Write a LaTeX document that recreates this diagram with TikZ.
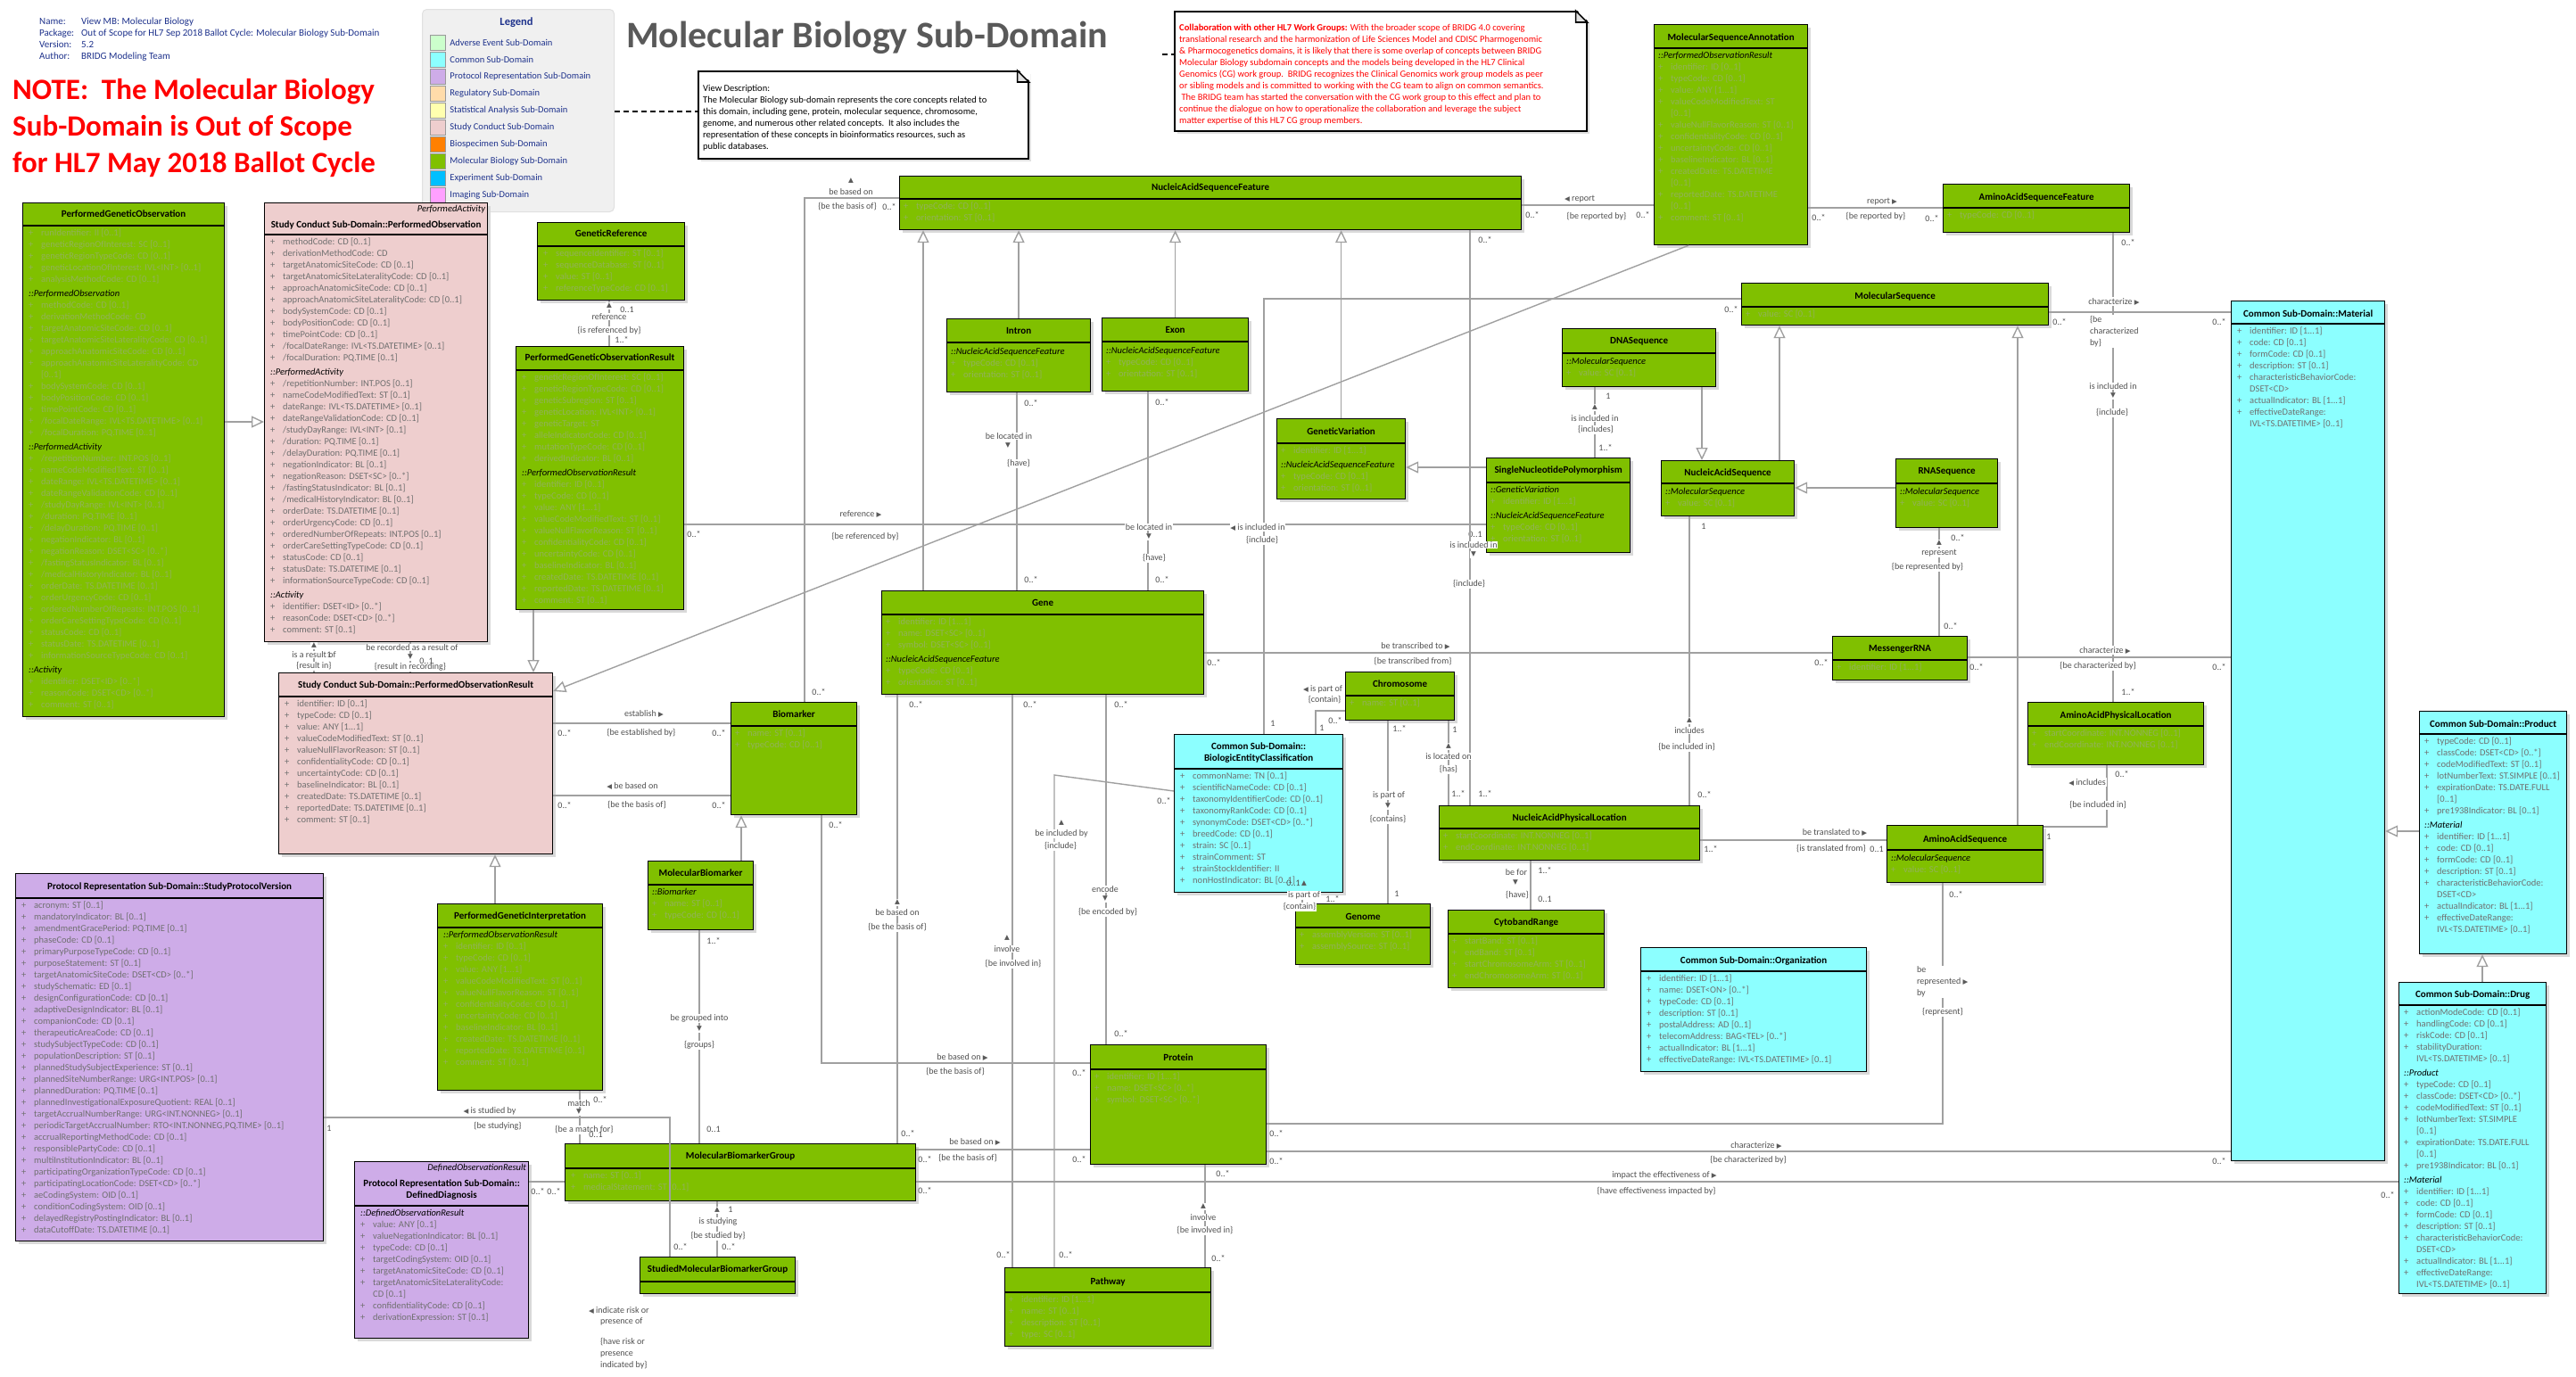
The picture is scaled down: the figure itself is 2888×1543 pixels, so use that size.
\documentclass[tikz,border=0pt]{standalone}
\usepackage{fontspec}
\setmainfont{Carlito}
\newfontfamily\trifont{DejaVu Sans}
\usepackage{tikz}
\usetikzlibrary{positioning,arrows.meta,shadows}

\definecolor{mbgreen}{RGB}{128,192,0}
\definecolor{cmcyan}{RGB}{140,255,255}
\definecolor{prlav}{RGB}{206,172,232}
\definecolor{scpink}{RGB}{238,206,206}
\definecolor{aegreen}{RGB}{204,255,204}
\definecolor{regorange}{RGB}{255,220,170}
\definecolor{statyellow}{RGB}{255,255,175}
\definecolor{biospec}{RGB}{255,128,0}
\definecolor{expblue}{RGB}{0,191,255}
\definecolor{imgpink}{RGB}{255,160,255}
\definecolor{attrgreen}{RGB}{146,178,90}
\definecolor{attrgray}{RGB}{112,112,112}
\definecolor{linegray}{RGB}{160,160,160}
\definecolor{lblgray}{RGB}{80,80,80}
\definecolor{trigray}{RGB}{90,90,90}
\definecolor{infoblue}{RGB}{30,50,140}
\definecolor{titlegray}{RGB}{89,89,89}

% attribute rows
\newcommand{\umlp}{\makebox[14pt][l]{+}}
\newcommand{\umlc}{\hspace*{14pt}}
\newcommand{\umls}[1]{{\color{black}\itshape #1}}
% direction marks on association names
\newcommand{\trr}{{\trifont\fontsize{7.5}{7.5}\selectfont\textcolor{trigray}{▶}}}
\newcommand{\trl}{{\trifont\fontsize{7.5}{7.5}\selectfont\textcolor{trigray}{◀}}}
\newcommand{\tru}{{\trifont\fontsize{7.5}{7.5}\selectfont\textcolor{trigray}{▲}}}
\newcommand{\trd}{{\trifont\fontsize{7.5}{7.5}\selectfont\textcolor{trigray}{▼}}}

\begin{document}
\begin{tikzpicture}[x=1pt, y=-1pt,
    mbclass/.style={
        rectangle,
        draw=black,
        line width=1.2pt,
        fill=mbgreen,
        inner sep=0pt,
        anchor=north west,
        drop shadow={shadow xshift=3pt, shadow yshift=-3pt, fill=black!15, opacity=1}
    },
    cmclass/.style={mbclass, fill=cmcyan},
    scclass/.style={mbclass, fill=scpink},
    prclass/.style={mbclass, fill=prlav},
    ctitle/.style={
        font=\fontsize{11}{13}\selectfont\bfseries,
        inner sep=0pt,
        align=center
    },
    stereo/.style={
        font=\fontsize{10.5}{13}\selectfont\itshape,
        inner sep=0pt,
        anchor=north east
    },
    attrs/.style={
        font=\fontsize{10.5}{13}\selectfont,
        text=attrgreen,
        align=left,
        anchor=north west,
        inner sep=0pt
    },
    attrsg/.style={attrs, text=attrgray},
    hline/.style={line width=1.2pt},
    assoc/.style={draw=linegray, line width=1.4pt},
    gen/.style={assoc, -{Triangle[length=14pt, width=13pt, fill=white]}},
    lbl/.style={
        font=\fontsize{10}{13}\selectfont,
        text=lblgray,
        fill=white,
        inner sep=0.8pt
    },
    mult/.style={lbl, fill=none},
    notebox/.style={
        rectangle,
        draw=black,
        line width=1.6pt,
        fill=white,
        anchor=north west,
        drop shadow={shadow xshift=3pt, shadow yshift=-3pt, fill=black!12, opacity=1}
    },
    notelink/.style={draw=black, line width=1.4pt, dash pattern=on 6pt off 4pt},
    swatch/.style={
        rectangle,
        draw=black!40,
        minimum width=17pt,
        minimum height=17pt,
        inner sep=0pt
    },
    legtext/.style={
        font=\fontsize{10.5}{13}\selectfont,
        text=infoblue,
        inner sep=0pt
    }
]

% Page
\fill[white] (0,0) rectangle (2888,1543);
\useasboundingbox (0,0) rectangle (2888,1543);

% Model information
\node[font=\fontsize{11}{13}\selectfont, text=infoblue, align=left, anchor=north west, inner sep=0pt] (info) at (44,20)
    {\makebox[47pt][l]{Name:}View MB: Molecular Biology\\
     \makebox[47pt][l]{Package:}Out of Scope for HL7 Sep 2018 Ballot Cycle: Molecular Biology Sub-Domain\\
     \makebox[47pt][l]{Version:}5.2\\
     \makebox[47pt][l]{Author:}BRIDG Modeling Team};

% Scope note
\node[font=\fontsize{33}{41}\selectfont\bfseries, text=red, align=left, anchor=north west, inner sep=0pt] (note) at (14,88)
    {NOTE:\ \ The Molecular Biology\\Sub-Domain is Out of Scope\\for HL7 May 2018 Ballot Cycle};

% Title
\node[font=\fontsize{42}{50}\selectfont\bfseries, text=titlegray] (title) at (972,42) {Molecular Biology Sub-Domain};

% Legend
\node[rectangle, rounded corners=5pt, fill=black!6, draw=black!12, line width=1pt, anchor=north west, minimum width=215pt, minimum height=227pt] (legend) at (473,10) {};
\node[font=\fontsize{12.5}{14}\selectfont\bfseries, text=infoblue] (legtitle) at (579,25) {Legend};
\node[swatch, fill=aegreen] (sw1) at (490.5,48) {};
\node[legtext, right=5pt of sw1] (lg1) {Adverse Event Sub-Domain};
\node[swatch, fill=cmcyan] (sw2) at (490.5,67) {};
\node[legtext, right=5pt of sw2] (lg2) {Common Sub-Domain};
\node[swatch, fill=prlav] (sw3) at (490.5,86) {};
\node[legtext, right=5pt of sw3] (lg3) {Protocol Representation Sub-Domain};
\node[swatch, fill=regorange] (sw4) at (490.5,105) {};
\node[legtext, right=5pt of sw4] (lg4) {Regulatory Sub-Domain};
\node[swatch, fill=statyellow] (sw5) at (490.5,124) {};
\node[legtext, right=5pt of sw5] (lg5) {Statistical Analysis Sub-Domain};
\node[swatch, fill=scpink] (sw6) at (490.5,143) {};
\node[legtext, right=5pt of sw6] (lg6) {Study Conduct Sub-Domain};
\node[swatch, fill=biospec] (sw7) at (490.5,162) {};
\node[legtext, right=5pt of sw7] (lg7) {Biospecimen Sub-Domain};
\node[swatch, fill=mbgreen] (sw8) at (490.5,181) {};
\node[legtext, right=5pt of sw8] (lg8) {Molecular Biology Sub-Domain};
\node[swatch, fill=expblue] (sw9) at (490.5,200) {};
\node[legtext, right=5pt of sw9] (lg9) {Experiment Sub-Domain};
\node[swatch, fill=imgpink] (sw10) at (490.5,219) {};
\node[legtext, right=5pt of sw10] (lg10) {Imaging Sub-Domain};

% View description note
\node[notebox, minimum width=370pt, minimum height=98pt] (viewnote) at (782,79) {};
\fill[white] ([xshift=-13pt,yshift=2pt]viewnote.north east) -- ([xshift=2pt,yshift=2pt]viewnote.north east) -- ([xshift=2pt,yshift=-13pt]viewnote.north east) -- cycle;
\draw[line width=1.6pt, fill=black!12] ([xshift=-13pt]viewnote.north east) -- ([yshift=-13pt]viewnote.north east) -- ([xshift=-13pt,yshift=-13pt]viewnote.north east) -- cycle;
\node[font=\fontsize{10.5}{13}\selectfont, align=left, anchor=north west, inner sep=0pt] (viewtext) at (788,95)
    {View Description:\\
     The Molecular Biology sub-domain represents the core concepts related to\\
     this domain, including gene, protein, molecular sequence, chromosome,\\
     genome, and numerous other related concepts.\ \ It also includes the\\
     representation of these concepts in bioinformatics resources, such as\\
     public databases.};
\draw[notelink] (legend.east |- 0,125) -- (viewnote.west |- 0,125);

% Collaboration note
\node[notebox, minimum width=462pt, minimum height=134pt] (collabnote) at (1316,12) {};
\fill[white] ([xshift=-13pt,yshift=2pt]collabnote.north east) -- ([xshift=2pt,yshift=2pt]collabnote.north east) -- ([xshift=2pt,yshift=-13pt]collabnote.north east) -- cycle;
\draw[line width=1.6pt, fill=black!12] ([xshift=-13pt]collabnote.north east) -- ([yshift=-13pt]collabnote.north east) -- ([xshift=-13pt,yshift=-13pt]collabnote.north east) -- cycle;
\node[font=\fontsize{10.5}{13}\selectfont, text=red, align=left, anchor=north west, inner sep=0pt] (collabtext) at (1322,27)
    {\textbf{Collaboration with other HL7 Work Groups:} With the broader scope of BRIDG 4.0 covering\\
     translational research and the harmonization of Life Sciences Model and CDISC Pharmogenomic\\
     \& Pharmocogenetics domains, it is likely that there is some overlap of concepts between BRIDG\\
     Molecular Biology subdomain concepts and the models being developed in the HL7 Clinical\\
     Genomics (CG) work group.\ \ BRIDG recognizes the Clinical Genomics work group models as peer\\
     or sibling models and is committed to working with the CG team to align on common semantics.\\
     \ The BRIDG team has started the conversation with the CG work group to this effect and plan to\\
     continue the dialogue on how to operationalize the collaboration and leverage the subject\\
     matter expertise of this HL7 CG group members.};
\coordinate (collabstub) at (1303,61);
\draw[notelink] (collabstub) -- (collabnote.west |- collabstub);

% PerformedGeneticObservation
\node[mbclass, minimum width=226pt, minimum height=576pt] (pgo) at (25,227) {};
\draw[hline] ([yshift=-26pt]pgo.north west) -- ([yshift=-26pt]pgo.north east);
\node[ctitle] (pgoT) at ([yshift=-13pt]pgo.north) {PerformedGeneticObservation};
\node[attrs] (pgoA) at ([xshift=7pt,yshift=-30pt]pgo.north west)
    {\umlp runIdentifier: II [0..1]\\
     \umlp geneticRegionOfInterest: SC [0..1]\\
     \umlp geneticRegionTypeCode: CD [0..1]\\
     \umlp geneticLocationOfInterest: IVL<INT> [0..1]\\
     \umlp analysisMethodCode: CD [0..1]\\[3pt]
     \umls{::PerformedObservation}\\
     \umlp methodCode: CD [0..1]\\
     \umlp derivationMethodCode: CD\\
     \umlp targetAnatomicSiteCode: CD [0..1]\\
     \umlp targetAnatomicSiteLateralityCode: CD [0..1]\\
     \umlp approachAnatomicSiteCode: CD [0..1]\\
     \umlp approachAnatomicSiteLateralityCode: CD\\
     \umlc [0..1]\\
     \umlp bodySystemCode: CD [0..1]\\
     \umlp bodyPositionCode: CD [0..1]\\
     \umlp timePointCode: CD [0..1]\\
     \umlp /focalDateRange: IVL<TS.DATETIME> [0..1]\\
     \umlp /focalDuration: PQ.TIME [0..1]\\[3pt]
     \umls{::PerformedActivity}\\
     \umlp /repetitionNumber: INT.POS [0..1]\\
     \umlp nameCodeModifiedText: ST [0..1]\\
     \umlp dateRange: IVL<TS.DATETIME> [0..1]\\
     \umlp dateRangeValidationCode: CD [0..1]\\
     \umlp /studyDayRange: IVL<INT> [0..1]\\
     \umlp /duration: PQ.TIME [0..1]\\
     \umlp /delayDuration: PQ.TIME [0..1]\\
     \umlp negationIndicator: BL [0..1]\\
     \umlp negationReason: DSET<SC> [0..*]\\
     \umlp /fastingStatusIndicator: BL [0..1]\\
     \umlp /medicalHistoryIndicator: BL [0..1]\\
     \umlp orderDate: TS.DATETIME [0..1]\\
     \umlp orderUrgencyCode: CD [0..1]\\
     \umlp orderedNumberOfRepeats: INT.POS [0..1]\\
     \umlp orderCareSettingTypeCode: CD [0..1]\\
     \umlp statusCode: CD [0..1]\\
     \umlp statusDate: TS.DATETIME [0..1]\\
     \umlp informationSourceTypeCode: CD [0..1]\\[3pt]
     \umls{::Activity}\\
     \umlp identifier: DSET<ID> [0..*]\\
     \umlp reasonCode: DSET<CD> [0..*]\\
     \umlp comment: ST [0..1]};

% Study Conduct PerformedObservation
\node[scclass, minimum width=250pt, minimum height=492pt] (pobs) at (296,227) {};
\draw[hline] ([yshift=-36pt]pobs.north west) -- ([yshift=-36pt]pobs.north east);
\node[stereo] (pobsS) at ([xshift=-3pt,yshift=-3pt]pobs.north east) {PerformedActivity};
\node[ctitle] (pobsT) at ([yshift=-25pt]pobs.north) {Study Conduct Sub-Domain::PerformedObservation};
\node[attrsg] (pobsA) at ([xshift=7pt,yshift=-40pt]pobs.north west)
    {\umlp methodCode: CD [0..1]\\
     \umlp derivationMethodCode: CD\\
     \umlp targetAnatomicSiteCode: CD [0..1]\\
     \umlp targetAnatomicSiteLateralityCode: CD [0..1]\\
     \umlp approachAnatomicSiteCode: CD [0..1]\\
     \umlp approachAnatomicSiteLateralityCode: CD [0..1]\\
     \umlp bodySystemCode: CD [0..1]\\
     \umlp bodyPositionCode: CD [0..1]\\
     \umlp timePointCode: CD [0..1]\\
     \umlp /focalDateRange: IVL<TS.DATETIME> [0..1]\\
     \umlp /focalDuration: PQ.TIME [0..1]\\[3pt]
     \umls{::PerformedActivity}\\
     \umlp /repetitionNumber: INT.POS [0..1]\\
     \umlp nameCodeModifiedText: ST [0..1]\\
     \umlp dateRange: IVL<TS.DATETIME> [0..1]\\
     \umlp dateRangeValidationCode: CD [0..1]\\
     \umlp /studyDayRange: IVL<INT> [0..1]\\
     \umlp /duration: PQ.TIME [0..1]\\
     \umlp /delayDuration: PQ.TIME [0..1]\\
     \umlp negationIndicator: BL [0..1]\\
     \umlp negationReason: DSET<SC> [0..*]\\
     \umlp /fastingStatusIndicator: BL [0..1]\\
     \umlp /medicalHistoryIndicator: BL [0..1]\\
     \umlp orderDate: TS.DATETIME [0..1]\\
     \umlp orderUrgencyCode: CD [0..1]\\
     \umlp orderedNumberOfRepeats: INT.POS [0..1]\\
     \umlp orderCareSettingTypeCode: CD [0..1]\\
     \umlp statusCode: CD [0..1]\\
     \umlp statusDate: TS.DATETIME [0..1]\\
     \umlp informationSourceTypeCode: CD [0..1]\\[3pt]
     \umls{::Activity}\\
     \umlp identifier: DSET<ID> [0..*]\\
     \umlp reasonCode: DSET<CD> [0..*]\\
     \umlp comment: ST [0..1]};

% GeneticReference
\node[mbclass, minimum width=165pt, minimum height=87pt] (gref) at (602,249) {};
\draw[hline] ([yshift=-27pt]gref.north west) -- ([yshift=-27pt]gref.north east);
\node[ctitle] (grefT) at ([yshift=-13pt]gref.north) {GeneticReference};
\node[attrs] (grefA) at ([xshift=7pt,yshift=-31pt]gref.north west)
    {\umlp sequenceIdentifier: ST [0..1]\\
     \umlp sequenceDatabase: ST [0..1]\\
     \umlp value: ST [0..1]\\
     \umlp referenceTypeCode: CD [0..1]};

% PerformedGeneticObservationResult
\node[mbclass, minimum width=188pt, minimum height=295pt] (pgor) at (578,388) {};
\draw[hline] ([yshift=-27pt]pgor.north west) -- ([yshift=-27pt]pgor.north east);
\node[ctitle] (pgorT) at ([yshift=-13pt]pgor.north) {PerformedGeneticObservationResult};
\node[attrs] (pgorA) at ([xshift=7pt,yshift=-31pt]pgor.north west)
    {\umlp geneticRegionOfInterest: SC [0..1]\\
     \umlp geneticRegionTypeCode: CD [0..1]\\
     \umlp geneticSubregion: ST [0..1]\\
     \umlp geneticLocation: IVL<INT> [0..1]\\
     \umlp geneticTarget: ST\\
     \umlp alleleIndicatorCode: CD [0..1]\\
     \umlp mutationTypeCode: CD [0..1]\\
     \umlp derivedIndicator: BL [0..1]\\[3pt]
     \umls{::PerformedObservationResult}\\
     \umlp identifier: ID [0..1]\\
     \umlp typeCode: CD [0..1]\\
     \umlp value: ANY [1...1]\\
     \umlp valueCodeModifiedText: ST [0..1]\\
     \umlp valueNullFlavorReason: ST [0..1]\\
     \umlp confidentialityCode: CD [0..1]\\
     \umlp uncertaintyCode: CD [0..1]\\
     \umlp baselineIndicator: BL [0..1]\\
     \umlp createdDate: TS.DATETIME [0..1]\\
     \umlp reportedDate: TS.DATETIME [0..1]\\
     \umlp comment: ST [0..1]};

% Study Conduct PerformedObservationResult
\node[scclass, minimum width=307pt, minimum height=203pt] (pores) at (312,754) {};
\draw[hline] ([yshift=-27pt]pores.north west) -- ([yshift=-27pt]pores.north east);
\node[ctitle] (poresT) at ([yshift=-14pt]pores.north) {Study Conduct Sub-Domain::PerformedObservationResult};
\node[attrsg] (poresA) at ([xshift=7pt,yshift=-31pt]pores.north west)
    {\umlp identifier: ID [0..1]\\
     \umlp typeCode: CD [0..1]\\
     \umlp value: ANY [1...1]\\
     \umlp valueCodeModifiedText: ST [0..1]\\
     \umlp valueNullFlavorReason: ST [0..1]\\
     \umlp confidentialityCode: CD [0..1]\\
     \umlp uncertaintyCode: CD [0..1]\\
     \umlp baselineIndicator: BL [0..1]\\
     \umlp createdDate: TS.DATETIME [0..1]\\
     \umlp reportedDate: TS.DATETIME [0..1]\\
     \umlp comment: ST [0..1]};

% PerformedGeneticInterpretation
\node[mbclass, minimum width=185pt, minimum height=209pt] (pgi) at (490,1013) {};
\draw[hline] ([yshift=-27pt]pgi.north west) -- ([yshift=-27pt]pgi.north east);
\node[ctitle] (pgiT) at ([yshift=-14pt]pgi.north) {PerformedGeneticInterpretation};
\node[attrs] (pgiA) at ([xshift=7pt,yshift=-31pt]pgi.north west)
    {\umls{::PerformedObservationResult}\\
     \umlp identifier: ID [0..1]\\
     \umlp typeCode: CD [0..1]\\
     \umlp value: ANY [1...1]\\
     \umlp valueCodeModifiedText: ST [0..1]\\
     \umlp valueNullFlavorReason: ST [0..1]\\
     \umlp confidentialityCode: CD [0..1]\\
     \umlp uncertaintyCode: CD [0..1]\\
     \umlp baselineIndicator: BL [0..1]\\
     \umlp createdDate: TS.DATETIME [0..1]\\
     \umlp reportedDate: TS.DATETIME [0..1]\\
     \umlp comment: ST [0..1]};

% StudyProtocolVersion
\node[prclass, minimum width=345pt, minimum height=412pt] (spv) at (17,979) {};
\draw[hline] ([yshift=-28pt]spv.north west) -- ([yshift=-28pt]spv.north east);
\node[ctitle] (spvT) at ([yshift=-15pt]spv.north) {Protocol Representation Sub-Domain::StudyProtocolVersion};
\node[attrsg] (spvA) at ([xshift=7pt,yshift=-32pt]spv.north west)
    {\umlp acronym: ST [0..1]\\
     \umlp mandatoryIndicator: BL [0..1]\\
     \umlp amendmentGracePeriod: PQ.TIME [0..1]\\
     \umlp phaseCode: CD [0..1]\\
     \umlp primaryPurposeTypeCode: CD [0..1]\\
     \umlp purposeStatement: ST [0..1]\\
     \umlp targetAnatomicSiteCode: DSET<CD> [0..*]\\
     \umlp studySchematic: ED [0..1]\\
     \umlp designConfigurationCode: CD [0..1]\\
     \umlp adaptiveDesignIndicator: BL [0..1]\\
     \umlp companionCode: CD [0..1]\\
     \umlp therapeuticAreaCode: CD [0..1]\\
     \umlp studySubjectTypeCode: CD [0..1]\\
     \umlp populationDescription: ST [0..1]\\
     \umlp plannedStudySubjectExperience: ST [0..1]\\
     \umlp plannedSiteNumberRange: URG<INT.POS> [0..1]\\
     \umlp plannedDuration: PQ.TIME [0..1]\\
     \umlp plannedInvestigationalExposureQuotient: REAL [0..1]\\
     \umlp targetAccrualNumberRange: URG<INT.NONNEG> [0..1]\\
     \umlp periodicTargetAccrualNumber: RTO<INT.NONNEG,PQ.TIME> [0..1]\\
     \umlp accrualReportingMethodCode: CD [0..1]\\
     \umlp responsiblePartyCode: CD [0..1]\\
     \umlp multiInstitutionIndicator: BL [0..1]\\
     \umlp participatingOrganizationTypeCode: CD [0..1]\\
     \umlp participatingLocationCode: DSET<CD> [0..*]\\
     \umlp aeCodingSystem: OID [0..1]\\
     \umlp conditionCodingSystem: OID [0..1]\\
     \umlp delayedRegistryPostingIndicator: BL [0..1]\\
     \umlp dataCutoffDate: TS.DATETIME [0..1]};

% DefinedDiagnosis
\node[prclass, minimum width=195pt, minimum height=198pt] (ddiag) at (397,1302) {};
\draw[hline] ([yshift=-50pt]ddiag.north west) -- ([yshift=-50pt]ddiag.north east);
\node[stereo] (ddiagS) at ([xshift=-3pt,yshift=-3pt]ddiag.north east) {DefinedObservationResult};
\node[ctitle] (ddiagT) at ([yshift=-32pt]ddiag.north) {Protocol Representation Sub-Domain::\\DefinedDiagnosis};
\node[attrsg] (ddiagA) at ([xshift=7pt,yshift=-54pt]ddiag.north west)
    {\umls{::DefinedObservationResult}\\
     \umlp value: ANY [0..1]\\
     \umlp valueNegationIndicator: BL [0..1]\\
     \umlp typeCode: CD [0..1]\\
     \umlp targetCodingSystem: OID [0..1]\\
     \umlp targetAnatomicSiteCode: CD [0..1]\\
     \umlp targetAnatomicSiteLateralityCode:\\
     \umlc CD [0..1]\\
     \umlp confidentialityCode: CD [0..1]\\
     \umlp derivationExpression: ST [0..1]};

% MolecularBiomarkerGroup
\node[mbclass, minimum width=393pt, minimum height=64pt] (mbg) at (633,1282) {};
\draw[hline] ([yshift=-28pt]mbg.north west) -- ([yshift=-28pt]mbg.north east);
\node[ctitle] (mbgT) at ([yshift=-14pt]mbg.north) {MolecularBiomarkerGroup};
\node[attrs] (mbgA) at ([xshift=7pt,yshift=-32pt]mbg.north west)
    {\umlp name: ST [0..1]\\
     \umlp medicalStatement: ST [0..1]};

% StudiedMolecularBiomarkerGroup
\node[mbclass, minimum width=174pt, minimum height=41pt] (smbg) at (717,1409) {};
\draw[hline] ([yshift=-28pt]smbg.north west) -- ([yshift=-28pt]smbg.north east);
\node[ctitle] (smbgT) at ([yshift=-14pt]smbg.north) {StudiedMolecularBiomarkerGroup};

% MolecularBiomarker
\node[mbclass, minimum width=118pt, minimum height=77pt] (molbm) at (726,965) {};
\draw[hline] ([yshift=-27pt]molbm.north west) -- ([yshift=-27pt]molbm.north east);
\node[ctitle] (molbmT) at ([yshift=-14pt]molbm.north) {MolecularBiomarker};
\node[attrs] (molbmA) at ([xshift=5pt,yshift=-31pt]molbm.north west)
    {\umls{::Biomarker}\\
     \umlp name: ST [0..1]\\
     \umlp typeCode: CD [0..1]};

% Biomarker
\node[mbclass, minimum width=141pt, minimum height=126pt] (biomarker) at (819,787) {};
\draw[hline] ([yshift=-27pt]biomarker.north west) -- ([yshift=-27pt]biomarker.north east);
\node[ctitle] (biomarkerT) at ([yshift=-14pt]biomarker.north) {Biomarker};
\node[attrs] (biomarkerA) at ([xshift=5pt,yshift=-31pt]biomarker.north west)
    {\umlp name: ST [0..1]\\
     \umlp typeCode: CD [0..1]};

% NucleicAcidSequenceFeature
\node[mbclass, minimum width=697pt, minimum height=60pt] (nasf) at (1008,197) {};
\draw[hline] ([yshift=-26pt]nasf.north west) -- ([yshift=-26pt]nasf.north east);
\node[ctitle] (nasfT) at ([yshift=-13pt]nasf.north) {NucleicAcidSequenceFeature};
\node[attrs] (nasfA) at ([xshift=5pt,yshift=-30pt]nasf.north west)
    {\umlp typeCode: CD [0..1]\\
     \umlp orientation: ST [0..1]};

% Intron
\node[mbclass, minimum width=161pt, minimum height=82pt] (intron) at (1061,357) {};
\draw[hline] ([yshift=-27pt]intron.north west) -- ([yshift=-27pt]intron.north east);
\node[ctitle] (intronT) at ([yshift=-14pt]intron.north) {Intron};
\node[attrs] (intronA) at ([xshift=5pt,yshift=-33pt]intron.north west)
    {\umls{::NucleicAcidSequenceFeature}\\
     \umlp typeCode: CD [0..1]\\
     \umlp orientation: ST [0..1]};

% Exon
\node[mbclass, minimum width=164pt, minimum height=82pt] (exon) at (1235,356) {};
\draw[hline] ([yshift=-27pt]exon.north west) -- ([yshift=-27pt]exon.north east);
\node[ctitle] (exonT) at ([yshift=-14pt]exon.north) {Exon};
\node[attrs] (exonA) at ([xshift=5pt,yshift=-33pt]exon.north west)
    {\umls{::NucleicAcidSequenceFeature}\\
     \umlp typeCode: CD [0..1]\\
     \umlp orientation: ST [0..1]};

% Gene
\node[mbclass, minimum width=361pt, minimum height=116pt] (gene) at (988,662) {};
\draw[hline] ([yshift=-27pt]gene.north west) -- ([yshift=-27pt]gene.north east);
\node[ctitle] (geneT) at ([yshift=-14pt]gene.north) {Gene};
\node[attrs] (geneA) at ([xshift=5pt,yshift=-31pt]gene.north west)
    {\umlp identifier: ID [1...1]\\
     \umlp name: DSET<SC> [0..1]\\
     \umlp symbol: DSET<SC> [0..1]\\[3pt]
     \umls{::NucleicAcidSequenceFeature}\\
     \umlp typeCode: CD [0..1]\\
     \umlp orientation: ST [0..1]};

% BiologicEntityClassification
\node[cmclass, minimum width=189pt, minimum height=177pt] (bec) at (1316,823) {};
\draw[hline] ([yshift=-39pt]bec.north west) -- ([yshift=-39pt]bec.north east);
\node[ctitle] (becT) at ([yshift=-21pt]bec.north) {Common Sub-Domain::\\BiologicEntityClassification};
\node[attrsg] (becA) at ([xshift=7pt,yshift=-43pt]bec.north west)
    {\umlp commonName: TN [0..1]\\
     \umlp scientificNameCode: CD [0..1]\\
     \umlp taxonomyIdentifierCode: CD [0..1]\\
     \umlp taxonomyRankCode: CD [0..1]\\
     \umlp synonymCode: DSET<CD> [0..*]\\
     \umlp breedCode: CD [0..1]\\
     \umlp strain: SC [0..1]\\
     \umlp strainComment: ST\\
     \umlp strainStockIdentifier: II\\
     \umlp nonHostIndicator: BL [0..1]};

% Chromosome
\node[mbclass, minimum width=122pt, minimum height=54pt] (chromosome) at (1508,753) {};
\draw[hline] ([yshift=-27pt]chromosome.north west) -- ([yshift=-27pt]chromosome.north east);
\node[ctitle] (chromosomeT) at ([yshift=-14pt]chromosome.north) {Chromosome};
\node[attrs] (chromosomeA) at ([xshift=5pt,yshift=-31pt]chromosome.north west)
    {\umlp name: ST [0..1]};

% Genome
\node[mbclass, minimum width=151pt, minimum height=68pt] (genome) at (1452,1013) {};
\draw[hline] ([yshift=-27pt]genome.north west) -- ([yshift=-27pt]genome.north east);
\node[ctitle] (genomeT) at ([yshift=-15pt]genome.north) {Genome};
\node[attrs] (genomeA) at ([xshift=5pt,yshift=-31pt]genome.north west)
    {\umlp assemblyVersion: ST [0..1]\\
     \umlp assemblySource: ST [0..1]};

% NucleicAcidPhysicalLocation
\node[mbclass, minimum width=292pt, minimum height=61pt] (napl) at (1613,903) {};
\draw[hline] ([yshift=-26pt]napl.north west) -- ([yshift=-26pt]napl.north east);
\node[ctitle] (naplT) at ([yshift=-14pt]napl.north) {NucleicAcidPhysicalLocation};
\node[attrs] (naplA) at ([xshift=5pt,yshift=-30pt]napl.north west)
    {\umlp startCoordinate: INT.NONNEG [0..1]\\
     \umlp endCoordinate: INT.NONNEG [0..1]};

% CytobandRange
\node[mbclass, minimum width=175pt, minimum height=87pt] (cytoband) at (1623,1020) {};
\draw[hline] ([yshift=-27pt]cytoband.north west) -- ([yshift=-27pt]cytoband.north east);
\node[ctitle] (cytobandT) at ([yshift=-15pt]cytoband.north) {CytobandRange};
\node[attrs] (cytobandA) at ([xshift=5pt,yshift=-31pt]cytoband.north west)
    {\umlp startBand: ST [0..1]\\
     \umlp endBand: ST [0..1]\\
     \umlp startChromosomeArm: ST [0..1]\\
     \umlp endChromosomeArm: ST [0..1]};

% SingleNucleotidePolymorphism
\node[mbclass, minimum width=161pt, minimum height=106pt] (snp) at (1666,513) {};
\draw[hline] ([yshift=-28pt]snp.north west) -- ([yshift=-28pt]snp.north east);
\node[ctitle] (snpT) at ([yshift=-15pt]snp.north) {SingleNucleotidePolymorphism};
\node[attrs] (snpA) at ([xshift=5pt,yshift=-32pt]snp.north west)
    {\umls{::GeneticVariation}\\
     \umlp identifier: ID [1...1]\\[3pt]
     \umls{::NucleicAcidSequenceFeature}\\
     \umlp typeCode: CD [0..1]\\
     \umlp orientation: ST [0..1]};

% GeneticVariation
\node[mbclass, minimum width=144pt, minimum height=90pt] (genvar) at (1431,469) {};
\draw[hline] ([yshift=-28pt]genvar.north west) -- ([yshift=-28pt]genvar.north east);
\node[ctitle] (genvarT) at ([yshift=-15pt]genvar.north) {GeneticVariation};
\node[attrs] (genvarA) at ([xshift=5pt,yshift=-32pt]genvar.north west)
    {\umlp identifier: ID [1...1]\\[3pt]
     \umls{::NucleicAcidSequenceFeature}\\
     \umlp typeCode: CD [0..1]\\
     \umlp orientation: ST [0..1]};

% MolecularSequenceAnnotation
\node[mbclass, minimum width=172pt, minimum height=247pt] (msa) at (1854,27) {};
\draw[hline] ([yshift=-27pt]msa.north west) -- ([yshift=-27pt]msa.north east);
\node[ctitle] (msaT) at ([yshift=-15pt]msa.north) {MolecularSequenceAnnotation};
\node[attrs] (msaA) at ([xshift=5pt,yshift=-31pt]msa.north west)
    {\umls{::PerformedObservationResult}\\
     \umlp identifier: ID [0..1]\\
     \umlp typeCode: CD [0..1]\\
     \umlp value: ANY [1...1]\\
     \umlp valueCodeModifiedText: ST\\
     \umlc [0..1]\\
     \umlp valueNullFlavorReason: ST [0..1]\\
     \umlp confidentialityCode: CD [0..1]\\
     \umlp uncertaintyCode: CD [0..1]\\
     \umlp baselineIndicator: BL [0..1]\\
     \umlp createdDate: TS.DATETIME\\
     \umlc [0..1]\\
     \umlp reportedDate: TS.DATETIME\\
     \umlc [0..1]\\
     \umlp comment: ST [0..1]};

% AminoAcidSequenceFeature
\node[mbclass, minimum width=209pt, minimum height=54pt] (aasf) at (2178,206) {};
\draw[hline] ([yshift=-27pt]aasf.north west) -- ([yshift=-27pt]aasf.north east);
\node[ctitle] (aasfT) at ([yshift=-15pt]aasf.north) {AminoAcidSequenceFeature};
\node[attrs] (aasfA) at ([xshift=5pt,yshift=-31pt]aasf.north west)
    {\umlp typeCode: CD [0..1]};

% MolecularSequence
\node[mbclass, minimum width=344pt, minimum height=47pt] (molseq) at (1952,317) {};
\draw[hline] ([yshift=-27pt]molseq.north west) -- ([yshift=-27pt]molseq.north east);
\node[ctitle] (molseqT) at ([yshift=-15pt]molseq.north) {MolecularSequence};
\node[attrs] (molseqA) at ([xshift=5pt,yshift=-31pt]molseq.north west)
    {\umlp value: SC [0..1]};

% DNASequence
\node[mbclass, minimum width=172pt, minimum height=65pt] (dnaseq) at (1751,368) {};
\draw[hline] ([yshift=-28pt]dnaseq.north west) -- ([yshift=-28pt]dnaseq.north east);
\node[ctitle] (dnaseqT) at ([yshift=-15pt]dnaseq.north) {DNASequence};
\node[attrs] (dnaseqA) at ([xshift=5pt,yshift=-33pt]dnaseq.north west)
    {\umls{::MolecularSequence}\\
     \umlp value: SC [0..1]};

% NucleicAcidSequence
\node[mbclass, minimum width=149pt, minimum height=62pt] (naseq) at (1862,516) {};
\draw[hline] ([yshift=-26pt]naseq.north west) -- ([yshift=-26pt]naseq.north east);
\node[ctitle] (naseqT) at ([yshift=-14pt]naseq.north) {NucleicAcidSequence};
\node[attrs] (naseqA) at ([xshift=5pt,yshift=-31pt]naseq.north west)
    {\umls{::MolecularSequence}\\
     \umlp value: SC [0..1]};

% RNASequence
\node[mbclass, minimum width=114pt, minimum height=77pt] (rnaseq) at (2125,514) {};
\draw[hline] ([yshift=-28pt]rnaseq.north west) -- ([yshift=-28pt]rnaseq.north east);
\node[ctitle] (rnaseqT) at ([yshift=-15pt]rnaseq.north) {RNASequence};
\node[attrs] (rnaseqA) at ([xshift=5pt,yshift=-33pt]rnaseq.north west)
    {\umls{::MolecularSequence}\\
     \umlp value: SC [0..1]};

% MessengerRNA
\node[mbclass, minimum width=151pt, minimum height=49pt] (mrna) at (2054,713) {};
\draw[hline] ([yshift=-27pt]mrna.north west) -- ([yshift=-27pt]mrna.north east);
\node[ctitle] (mrnaT) at ([yshift=-15pt]mrna.north) {MessengerRNA};
\node[attrs] (mrnaA) at ([xshift=5pt,yshift=-31pt]mrna.north west)
    {\umlp identifier: ID [1...1]};

% AminoAcidPhysicalLocation
\node[mbclass, minimum width=197pt, minimum height=70pt] (apl) at (2273,787) {};
\draw[hline] ([yshift=-27pt]apl.north west) -- ([yshift=-27pt]apl.north east);
\node[ctitle] (aplT) at ([yshift=-15pt]apl.north) {AminoAcidPhysicalLocation};
\node[attrs] (aplA) at ([xshift=5pt,yshift=-31pt]apl.north west)
    {\umlp startCoordinate: INT.NONNEG [0..1]\\
     \umlp endCoordinate: INT.NONNEG [0..1]};

% AminoAcidSequence
\node[mbclass, minimum width=175pt, minimum height=64pt] (aaseq) at (2115,925) {};
\draw[hline] ([yshift=-28pt]aaseq.north west) -- ([yshift=-28pt]aaseq.north east);
\node[ctitle] (aaseqT) at ([yshift=-16pt]aaseq.north) {AminoAcidSequence};
\node[attrs] (aaseqA) at ([xshift=5pt,yshift=-33pt]aaseq.north west)
    {\umls{::MolecularSequence}\\
     \umlp value: SC [0..1]};

% Protein
\node[mbclass, minimum width=197pt, minimum height=134pt] (protein) at (1222,1171) {};
\draw[hline] ([yshift=-28pt]protein.north west) -- ([yshift=-28pt]protein.north east);
\node[ctitle] (proteinT) at ([yshift=-15pt]protein.north) {Protein};
\node[attrs] (proteinA) at ([xshift=5pt,yshift=-32pt]protein.north west)
    {\umlp identifier: ID [1...1]\\
     \umlp name: DSET<SC> [0..*]\\
     \umlp symbol: DSET<SC> [0..*]};

% Pathway
\node[mbclass, minimum width=231pt, minimum height=88pt] (pathway) at (1126,1421) {};
\draw[hline] ([yshift=-28pt]pathway.north west) -- ([yshift=-28pt]pathway.north east);
\node[ctitle] (pathwayT) at ([yshift=-16pt]pathway.north) {Pathway};
\node[attrs] (pathwayA) at ([xshift=5pt,yshift=-32pt]pathway.north west)
    {\umlp identifier: ID [1...1]\\
     \umlp name: ST [0..1]\\
     \umlp description: ST [0..1]\\
     \umlp type: SC [0..1]};

% Organization
\node[cmclass, minimum width=253pt, minimum height=139pt] (org) at (1839,1062) {};
\draw[hline] ([yshift=-27pt]org.north west) -- ([yshift=-27pt]org.north east);
\node[ctitle] (orgT) at ([yshift=-16pt]org.north) {Common Sub-Domain::Organization};
\node[attrsg] (orgA) at ([xshift=7pt,yshift=-31pt]org.north west)
    {\umlp identifier: ID [1...1]\\
     \umlp name: DSET<ON> [0..*]\\
     \umlp typeCode: CD [0..1]\\
     \umlp description: ST [0..1]\\
     \umlp postalAddress: AD [0..1]\\
     \umlp telecomAddress: BAG<TEL> [0..*]\\
     \umlp actualIndicator: BL [1...1]\\
     \umlp effectiveDateRange: IVL<TS.DATETIME> [0..1]};

% Material
\node[cmclass, minimum width=172pt, minimum height=964pt] (material) at (2501,337) {};
\draw[hline] ([yshift=-26pt]material.north west) -- ([yshift=-26pt]material.north east);
\node[ctitle] (materialT) at ([yshift=-15pt]material.north) {Common Sub-Domain::Material};
\node[attrsg] (materialA) at ([xshift=7pt,yshift=-30pt]material.north west)
    {\umlp identifier: ID [1...1]\\
     \umlp code: CD [0..1]\\
     \umlp formCode: CD [0..1]\\
     \umlp description: ST [0..1]\\
     \umlp characteristicBehaviorCode:\\
     \umlc DSET<CD>\\
     \umlp actualIndicator: BL [1...1]\\
     \umlp effectiveDateRange:\\
     \umlc IVL<TS.DATETIME> [0..1]};

% Product
\node[cmclass, minimum width=165pt, minimum height=272pt] (product) at (2712,797) {};
\draw[hline] ([yshift=-26pt]product.north west) -- ([yshift=-26pt]product.north east);
\node[ctitle] (productT) at ([yshift=-15pt]product.north) {Common Sub-Domain::Product};
\node[attrsg] (productA) at ([xshift=6pt,yshift=-30pt]product.north west)
    {\umlp typeCode: CD [0..1]\\
     \umlp classCode: DSET<CD> [0..*]\\
     \umlp codeModifiedText: ST [0..1]\\
     \umlp lotNumberText: ST.SIMPLE [0..1]\\
     \umlp expirationDate: TS.DATE.FULL\\
     \umlc [0..1]\\
     \umlp pre1938Indicator: BL [0..1]\\[3pt]
     \umls{::Material}\\
     \umlp identifier: ID [1...1]\\
     \umlp code: CD [0..1]\\
     \umlp formCode: CD [0..1]\\
     \umlp description: ST [0..1]\\
     \umlp characteristicBehaviorCode:\\
     \umlc DSET<CD>\\
     \umlp actualIndicator: BL [1...1]\\
     \umlp effectiveDateRange:\\
     \umlc IVL<TS.DATETIME> [0..1]};

% Drug
\node[cmclass, minimum width=165pt, minimum height=349pt] (drug) at (2689,1101) {};
\draw[hline] ([yshift=-26pt]drug.north west) -- ([yshift=-26pt]drug.north east);
\node[ctitle] (drugT) at ([yshift=-15pt]drug.north) {Common Sub-Domain::Drug};
\node[attrsg] (drugA) at ([xshift=6pt,yshift=-30pt]drug.north west)
    {\umlp actionModeCode: CD [0..1]\\
     \umlp handlingCode: CD [0..1]\\
     \umlp riskCode: CD [0..1]\\
     \umlp stabilityDuration:\\
     \umlc IVL<TS.DATETIME> [0..1]\\[3pt]
     \umls{::Product}\\
     \umlp typeCode: CD [0..1]\\
     \umlp classCode: DSET<CD> [0..*]\\
     \umlp codeModifiedText: ST [0..1]\\
     \umlp lotNumberText: ST.SIMPLE\\
     \umlc [0..1]\\
     \umlp expirationDate: TS.DATE.FULL\\
     \umlc [0..1]\\
     \umlp pre1938Indicator: BL [0..1]\\[3pt]
     \umls{::Material}\\
     \umlp identifier: ID [1...1]\\
     \umlp code: CD [0..1]\\
     \umlp formCode: CD [0..1]\\
     \umlp description: ST [0..1]\\
     \umlp characteristicBehaviorCode:\\
     \umlc DSET<CD>\\
     \umlp actualIndicator: BL [1...1]\\
     \umlp effectiveDateRange:\\
     \umlc IVL<TS.DATETIME> [0..1]};

% Generalizations
\draw[gen] (pgo.east |- 0,473) -- (pobs.west |- 0,473);
\draw[gen] (pgor.south -| 598,0) -- (pores.north -| 598,0);
\draw[gen] (pgi.north -| 555,0) -- (pores.south -| 555,0);
\draw[gen] (msa.south -| 1893,0) -- (pores.east |- 0,775);
\draw[gen] (molbm.north -| 831,0) -- (biomarker.south -| 831,0);
\draw[gen] (gene.north -| 1035,0) -- (nasf.south -| 1035,0);
\draw[gen] (intron.north) -- (nasf.south -| intron.north);
\draw[gen] (exon.north) -- (nasf.south -| exon.north);
\draw[gen] (genvar.north) -- (nasf.south -| genvar.north);
\draw[gen] (snp.west |- 0,524) -- (genvar.east |- 0,524);
\draw[gen] (dnaseq.south -| 1908,0) -- (naseq.north -| 1908,0);
\draw[gen] (naseq.north -| 1995,0) -- (molseq.south -| 1995,0);
\draw[gen] (rnaseq.west |- 0,547) -- (naseq.east |- 0,547);
\draw[gen] (aaseq.north -| 2262,0) -- (molseq.south -| 2262,0);
\draw[gen] (product.west |- 0,932) -- (material.east |- 0,932);
\draw[gen] (drug.north -| 2783,0) -- (product.south -| 2783,0);

% GeneticReference - PerformedGeneticObservationResult
\draw[assoc] (gref.south -| 683,0) -- (pgor.north -| 683,0);
\node[lbl] (r1a) at (683,343) {\tru};
\node[lbl] (r1b) at (683,355) {reference};
\node[mult] (r1c) at (703,347) {0..1};
\node[lbl] (r1d) at (683,371) {\{is referenced by\}};
\node[mult] (r1e) at (697,381) {1..*};

% PerformedObservation - PerformedObservationResult
\draw[assoc] (pobs.south -| 352,0) -- (pores.north -| 352,0);
\draw[assoc] (pobs.south -| 460,0) -- (pores.north -| 460,0);
\node[lbl] (r2a) at (352,724) {\tru};
\node[lbl] (r2b) at (352,734) {is a result of};
\node[mult] (r2c) at (369,734) {1};
\node[lbl] (r2d) at (352,747) {\{result in\}};
\node[lbl] (r2e) at (462,726) {be recorded as a result of};
\node[lbl] (r2f) at (460,737) {\trd};
\node[lbl] (r2g) at (460,748) {\{result in recording\}};
\node[mult] (r2h) at (478,741) {0..1};

% PerformedObservationResult - Biomarker
\draw[assoc] (pores.east |- 0,811) -- (biomarker.west |- 0,811);
\draw[assoc] (pores.east |- 0,892) -- (biomarker.west |- 0,892);
\node[lbl] (r3a) at (722,800) {establish \trr};
\node[lbl] (r3b) at (719,822) {\{be established by\}};
\node[mult] (r3c) at (633,822) {0..*};
\node[mult] (r3d) at (806,822) {0..*};
\node[lbl] (r3e) at (709,881) {\trl\ be based on};
\node[lbl] (r3f) at (714,903) {\{be the basis of\}};
\node[mult] (r3g) at (633,903) {0..*};
\node[mult] (r3h) at (806,903) {0..*};

% Biomarker - NucleicAcidSequenceFeature
\draw[assoc] (biomarker.north -| 902,0) |- (nasf.west |- 0,222);
\node[mult] (r4a) at (918,776) {0..*};
\node[lbl] (r4b) at (954,203) {\tru};
\node[lbl] (r4c) at (954,215) {be based on};
\node[lbl] (r4d) at (950,232) {\{be the basis of\}};
\node[mult] (r4e) at (997,232) {0..*};

% PerformedGeneticObservationResult - SingleNucleotidePolymorphism
\draw[assoc] (pgor.east |- 0,588) -- (snp.west |- 0,588);
\node[mult] (r5a) at (778,599) {0..*};
\node[lbl] (r5b) at (965,577) {reference \trr};
\node[lbl] (r5c) at (970,602) {\{be referenced by\}};
\node[mult] (r5d) at (1654,599) {0..1};

% Intron - Gene
\draw[assoc] (intron.south -| 1140,0) -- (gene.north -| 1140,0);
\node[mult] (r6a) at (1156,452) {0..*};
\node[lbl] (r6b) at (1131,489) {be located in};
\node[lbl] (r6c) at (1130,500) {\trd};
\node[lbl] (r6d) at (1142,520) {\{have\}};
\node[mult] (r6e) at (1156,650) {0..*};

% Exon - Gene
\draw[assoc] (exon.south -| 1287,0) -- (gene.north -| 1287,0);
\node[mult] (r7a) at (1303,451) {0..*};
\node[lbl] (r7b) at (1288,591) {be located in};
\node[lbl] (r7c) at (1288,602) {\trd};
\node[lbl] (r7d) at (1294,626) {\{have\}};
\node[mult] (r7e) at (1303,650) {0..*};

% NucleicAcidSequenceFeature - NucleicAcidPhysicalLocation
\draw[assoc] (nasf.south -| 1648,0) -- (napl.north -| 1648,0);
\node[mult] (r8a) at (1665,269) {0..*};
\node[lbl] (r8b) at (1652,611) {is included in};
\node[lbl] (r8c) at (1652,622) {\trd};
\node[lbl] (r8d) at (1647,655) {\{include\}};
\node[mult] (r8e) at (1665,890) {1..*};

% NucleicAcidSequenceFeature - MolecularSequenceAnnotation
\draw[assoc] (nasf.east |- 0,230) -- (msa.west |- 0,230);
\node[mult] (r9a) at (1718,241) {0..*};
\node[lbl] (r9b) at (1771,223) {\trl\ report};
\node[lbl] (r9c) at (1790,243) {\{be reported by\}};
\node[mult] (r9d) at (1842,241) {0..*};

% MolecularSequenceAnnotation - AminoAcidSequenceFeature
\draw[assoc] (msa.east |- 0,233) -- (aasf.west |- 0,233);
\node[mult] (r10a) at (2039,244) {0..*};
\node[lbl] (r10b) at (2110,226) {report \trr};
\node[lbl] (r10c) at (2103,243) {\{be reported by\}};
\node[mult] (r10d) at (2166,245) {0..*};

% AminoAcidSequenceFeature - AminoAcidPhysicalLocation
\draw[assoc] (aasf.south -| 2369,0) -- (apl.north -| 2369,0);
\node[mult] (r11a) at (2386,272) {0..*};
\node[lbl] (r11b) at (2369,433) {is included in};
\node[lbl] (r11c) at (2369,444) {\trd};
\node[lbl] (r11d) at (2368,463) {\{include\}};
\node[mult] (r11e) at (2386,776) {1..*};

% MolecularSequence - Material
\draw[assoc] (molseq.east |- 0,350) -- (material.west |- 0,350);
\node[mult] (r12a) at (2309,361) {0..*};
\node[lbl] (r12b) at (2370,338) {characterize \trr};
\node[lbl, align=left, anchor=north west] (r12c) at (2342,353) {\{be\\characterized\\by\}};
\node[mult] (r12d) at (2488,361) {0..*};

% MolecularSequence - BiologicEntityClassification
\draw[assoc] (molseq.west |- 0,335) -| (bec.north -| 1417,0);
\node[mult] (r13a) at (1941,347) {0..*};
\node[lbl] (r13b) at (1410,591) {\trl\ is included in};
\node[lbl] (r13c) at (1415,606) {\{include\}};
\node[mult] (r13d) at (1427,811) {1};

% DNASequence - SingleNucleotidePolymorphism
\draw[assoc] (dnaseq.south -| 1788,0) -- (snp.north -| 1788,0);
\node[mult] (r14a) at (1803,444) {1};
\node[lbl] (r14b) at (1788,457) {\tru};
\node[lbl] (r14c) at (1788,469) {is included in};
\node[lbl] (r14d) at (1789,482) {\{includes\}};
\node[mult] (r14e) at (1800,502) {1..*};

% NucleicAcidSequence - NucleicAcidPhysicalLocation
\draw[assoc] (naseq.south -| 1894,0) -- (napl.north -| 1894,0);
\node[mult] (r15a) at (1910,590) {1};
\node[lbl] (r15b) at (1894,808) {\tru};
\node[lbl] (r15c) at (1894,819) {includes};
\node[lbl] (r15d) at (1891,838) {\{be included in\}};
\node[mult] (r15e) at (1911,891) {0..*};

% RNASequence - MessengerRNA
\draw[assoc] (rnaseq.south -| 2174,0) -- (mrna.north -| 2174,0);
\node[mult] (r16a) at (2195,603) {0..*};
\node[lbl] (r16b) at (2174,609) {\tru};
\node[lbl] (r16c) at (2174,620) {represent};
\node[lbl] (r16d) at (2161,636) {\{be represented by\}};
\node[mult] (r16e) at (2187,702) {0..*};

% Gene - MessengerRNA
\draw[assoc] (gene.east |- 0,732) -- (mrna.west |- 0,732);
\node[mult] (r17a) at (1361,743) {0..*};
\node[lbl] (r17b) at (1587,724) {be transcribed to \trr};
\node[lbl] (r17c) at (1584,742) {\{be transcribed from\}};
\node[mult] (r17d) at (2042,743) {0..*};

% MessengerRNA - Material
\draw[assoc] (mrna.east |- 0,737) -- (material.west |- 0,737);
\node[mult] (r18a) at (2216,748) {0..*};
\node[lbl] (r18b) at (2360,729) {characterize \trr};
\node[lbl] (r18c) at (2352,747) {\{be characterized by\}};
\node[mult] (r18d) at (2488,748) {0..*};

% Chromosome - BiologicEntityClassification
\draw[assoc] (chromosome.west |- 0,797) -| (bec.north -| 1475,0);
\node[lbl] (r19a) at (1483,773) {\trl\ is part of};
\node[lbl] (r19b) at (1485,785) {\{contain\}};
\node[mult] (r19c) at (1497,808) {0..*};
\node[mult] (r19d) at (1482,816) {1};

% Chromosome - Genome
\draw[assoc] (chromosome.south -| 1556,0) -- (genome.north -| 1556,0);
\node[mult] (r20a) at (1569,817) {1..*};
\node[lbl] (r20b) at (1557,892) {is part of};
\node[lbl] (r20c) at (1556,904) {\trd};
\node[lbl] (r20d) at (1556,919) {\{contains\}};
\node[mult] (r20e) at (1566,1002) {1};

% Chromosome - NucleicAcidPhysicalLocation
\draw[assoc] (chromosome.south -| 1624,0) -- (napl.north -| 1624,0);
\node[mult] (r21a) at (1631,818) {1};
\node[lbl] (r21b) at (1624,837) {\tru};
\node[lbl] (r21c) at (1624,848) {is located on};
\node[lbl] (r21d) at (1624,863) {\{has\}};
\node[mult] (r21e) at (1635,890) {1..*};

% BiologicEntityClassification - Genome
\draw[assoc] (bec.south -| 1460,0) -- (genome.north -| 1460,0);
\node[mult] (r22a) at (1450,990) {0..1};
\node[lbl, fill=none] (r22b) at (1462,991) {\tru};
\node[lbl] (r22c) at (1462,1004) {is part of};
\node[lbl] (r22d) at (1457,1017) {\{contain\}};
\node[mult] (r22e) at (1494,1008) {1..*};

% NucleicAcidPhysicalLocation - CytobandRange
\draw[assoc] (napl.south -| 1716,0) -- (cytoband.north -| 1716,0);
\node[mult] (r23a) at (1732,976) {1..*};
\node[lbl] (r23b) at (1700,978) {be for};
\node[lbl] (r23c) at (1699,990) {\trd};
\node[lbl] (r23d) at (1701,1004) {\{have\}};
\node[mult] (r23e) at (1732,1008) {0..1};

% NucleicAcidPhysicalLocation - AminoAcidSequence
\draw[assoc] (napl.east |- 0,942) -- (aaseq.west |- 0,942);
\node[mult] (r24a) at (1918,952) {1..*};
\node[lbl] (r24b) at (2057,933) {be translated to \trr};
\node[lbl] (r24c) at (2053,952) {\{is translated from\}};
\node[mult] (r24d) at (2104,952) {0..1};

% AminoAcidPhysicalLocation - AminoAcidSequence
\draw[assoc] (apl.south -| 2362,0) |- (aaseq.east |- 0,927);
\node[mult] (r25a) at (2379,868) {0..*};
\node[lbl] (r25b) at (2340,877) {\trl\ includes};
\node[lbl] (r25c) at (2352,903) {\{be included in\}};
\node[mult] (r25d) at (2297,938) {1};

% AminoAcidSequence - Protein
\draw[assoc] (aaseq.south -| 2178,0) |- (protein.east |- 0,1260);
\node[mult] (r26a) at (2193,1003) {0..*};
\node[lbl, align=left, anchor=north west] (r26b) at (2148,1083) {be\\represented \trr\\by};
\node[lbl] (r26c) at (2178,1135) {\{represent\}};
\node[mult] (r26d) at (1431,1271) {0..*};

% Gene - MolecularBiomarkerGroup
\draw[assoc] (gene.south -| 1006,0) -- (mbg.north -| 1006,0);
\node[mult] (r27a) at (1027,790) {0..*};
\node[lbl] (r27b) at (1006,1012) {\tru};
\node[lbl] (r27c) at (1006,1023) {be based on};
\node[lbl] (r27d) at (1006,1040) {\{be the basis of\}};
\node[mult] (r27e) at (1018,1271) {0..*};

% Gene - Pathway
\draw[assoc] (gene.south -| 1135,0) -- (pathway.north -| 1135,0);
\node[mult] (r28a) at (1155,790) {0..*};
\node[lbl] (r28b) at (1129,1052) {\tru};
\node[lbl] (r28c) at (1129,1064) {involve};
\node[lbl] (r28d) at (1136,1081) {\{be involved in\}};
\node[mult] (r28e) at (1125,1407) {0..*};

% Gene - Protein
\draw[assoc] (gene.south -| 1240,0) -- (protein.north -| 1240,0);
\node[mult] (r29a) at (1257,790) {0..*};
\node[lbl] (r29b) at (1239,997) {encode};
\node[lbl] (r29c) at (1239,1008) {\trd};
\node[lbl] (r29d) at (1242,1023) {\{be encoded by\}};
\node[mult] (r29e) at (1257,1159) {0..*};

% BiologicEntityClassification - Pathway
\coordinate (becbend) at (1182,869);
\draw[assoc] (bec.west |- 0,887) -- (becbend) -- (pathway.north -| becbend);
\node[mult] (r30a) at (1305,898) {0..*};
\node[lbl] (r30b) at (1190,923) {\tru};
\node[lbl] (r30c) at (1190,935) {be included by};
\node[lbl] (r30d) at (1189,949) {\{include\}};
\node[mult] (r30e) at (1195,1407) {0..*};

% Biomarker - Protein
\draw[assoc] (biomarker.south -| 921,0) |- (protein.west |- 0,1192);
\node[mult] (r31a) at (937,925) {0..*};
\node[lbl] (r31b) at (1079,1185) {be based on \trr};
\node[lbl] (r31c) at (1071,1202) {\{be the basis of\}};
\node[mult] (r31d) at (1210,1203) {0..*};

% MolecularBiomarkerGroup - Protein
\draw[assoc] (mbg.east |- 0,1289) -- (protein.west |- 0,1289);
\node[mult] (r32a) at (1037,1300) {0..*};
\node[lbl] (r32b) at (1093,1280) {be based on \trr};
\node[lbl] (r32c) at (1085,1299) {\{be the basis of\}};
\node[mult] (r32d) at (1210,1300) {0..*};

% Protein - Material
\draw[assoc] (protein.east |- 0,1291) -- (material.west |- 0,1291);
\node[mult] (r33a) at (1431,1302) {0..*};
\node[lbl] (r33b) at (1969,1284) {characterize \trr};
\node[lbl] (r33c) at (1960,1301) {\{be characterized by\}};
\node[mult] (r33d) at (2488,1302) {0..*};

% MolecularBiomarkerGroup - Drug
\draw[assoc] (mbg.east |- 0,1325) -- (drug.west |- 0,1325);
\node[mult] (r34a) at (1037,1335) {0..*};
\node[lbl] (r34b) at (1866,1318) {impact the effectiveness of \trr};
\node[lbl] (r34c) at (1857,1336) {\{have effectiveness impacted by\}};
\node[mult] (r34d) at (2677,1340) {0..*};

% Protein - Pathway
\draw[assoc] (protein.south -| 1351,0) -- (pathway.north -| 1351,0);
\node[mult] (r35a) at (1371,1316) {0..*};
\node[lbl] (r35b) at (1349,1353) {\tru};
\node[lbl] (r35c) at (1349,1365) {involve};
\node[lbl] (r35d) at (1351,1380) {\{be involved in\}};
\node[mult] (r35e) at (1366,1411) {0..*};

% MolecularBiomarker - MolecularBiomarkerGroup
\draw[assoc] (molbm.south -| 784,0) -- (mbg.north -| 784,0);
\node[mult] (r36a) at (800,1055) {1..*};
\node[lbl] (r36b) at (784,1142) {be grouped into};
\node[lbl] (r36c) at (784,1154) {\trd};
\node[lbl] (r36d) at (784,1172) {\{groups\}};
\node[mult] (r36e) at (800,1266) {0..1};

% MolecularBiomarkerGroup - StudiedMolecularBiomarkerGroup
\draw[assoc] (mbg.south -| 804,0) -- (smbg.north -| 804,0);
\node[lbl] (r37a) at (804,1357) {\tru};
\node[mult] (r37b) at (819,1356) {1};
\node[lbl] (r37c) at (805,1370) {is studying};
\node[lbl] (r37d) at (805,1386) {\{be studied by\}};
\node[mult] (r37e) at (817,1398) {0..*};

% StudyProtocolVersion - StudiedMolecularBiomarkerGroup
\draw[assoc] (spv.east |- 0,1253) -| (smbg.north -| 751,0);
\node[mult] (r38a) at (369,1265) {1};
\node[lbl] (r38b) at (549,1246) {\trl\ is studied by};
\node[lbl] (r38c) at (558,1263) {\{be studying\}};
\node[mult] (r38d) at (763,1398) {0..*};

% PerformedGeneticInterpretation - MolecularBiomarkerGroup
\draw[assoc] (pgi.south -| 650,0) -- (mbg.north -| 650,0);
\node[mult] (r39a) at (673,1233) {0..*};
\node[lbl] (r39b) at (649,1237) {match};
\node[lbl] (r39c) at (649,1247) {\trd};
\node[lbl] (r39d) at (655,1267) {\{be a match for\}};
\node[mult] (r39e) at (668,1272) {0..1};

% DefinedDiagnosis - MolecularBiomarkerGroup
\draw[assoc] (ddiag.east |- 0,1325) -- (mbg.west |- 0,1325);
\node[mult] (r40a) at (603,1336) {0..*};
\node[mult] (r40b) at (621,1336) {0..*};
\node[lbl, anchor=west] (r40c) at (659,1469) {\trl\ indicate risk or};
\node[lbl, anchor=west] (r40d) at (672,1482) {presence of};
\node[lbl, align=left, anchor=north west] (r40e) at (672,1499) {\{have risk or\\presence\\indicated by\}};

\end{tikzpicture}
\end{document}
